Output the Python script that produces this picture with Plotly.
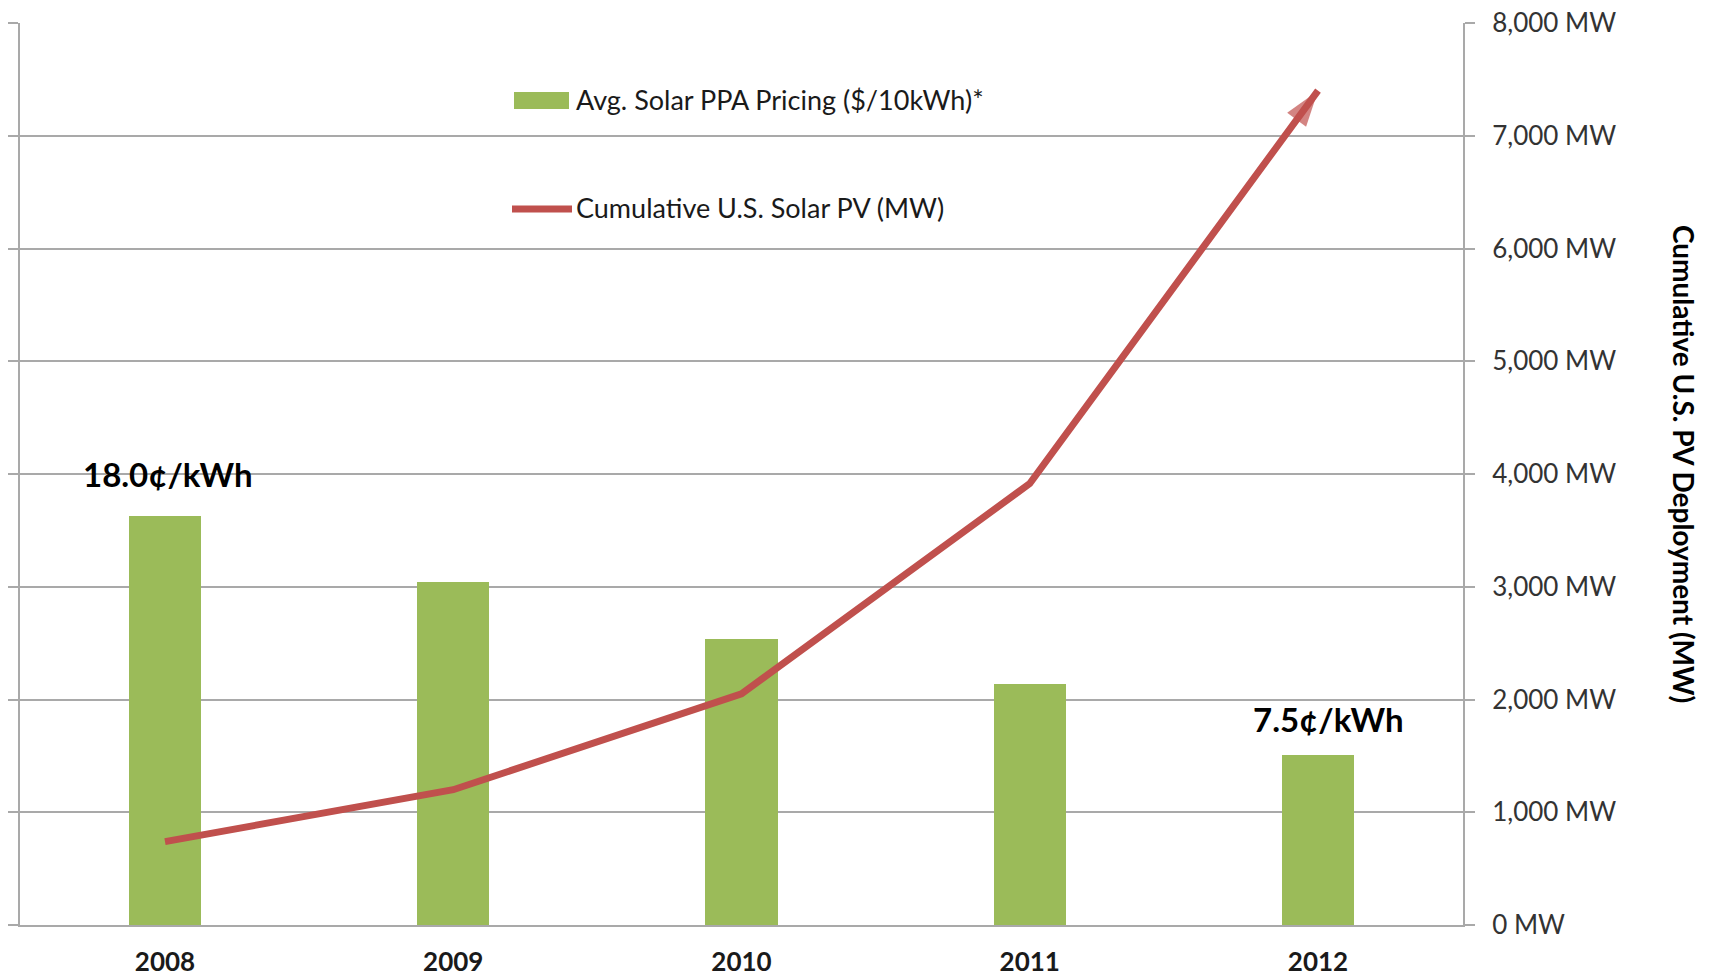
import plotly.graph_objects as go

# ---------------------------------------------------------------------------
# Data
# ---------------------------------------------------------------------------
YEARS = ["2008", "2009", "2010", "2011", "2012"]
PPA_CENTS_PER_KWH = [18.0, 15.1, 12.6, 10.6, 7.5]   # labelled in c/kWh
PV_CUMULATIVE_MW = [740, 1200, 2050, 3915, 7400]
MW_TICKS = [0, 1000, 2000, 3000, 4000, 5000, 6000, 7000, 8000]

BAR_NAME = "Avg. Solar PPA Pricing ($/10kWh)*"
LINE_NAME = "Cumulative U.S. Solar PV (MW)"
RIGHT_TITLE = "Cumulative U.S. PV Deployment (MW)"

# bars are plotted in $/10kWh
ppa_dollars_10kwh = [c / 10 for c in PPA_CENTS_PER_KWH]

GREEN = "#9BBB59"
RED = "#C0504D"
GRID = "#a9a9a9"
FONT = "Lato"

W, H = 1711, 977
M_L, M_R, M_T, M_B = 20, 248, 23, 52
PRICE_MAX = 3.97


def px_to_paper_x(px):
    return (px - M_L) / (W - M_L - M_R)


def px_to_paper_y(py):
    return (H - M_B - py) / (H - M_T - M_B)


fig = go.Figure()

fig.add_trace(go.Bar(
    x=YEARS,
    y=ppa_dollars_10kwh,
    name=BAR_NAME,
    marker=dict(color=GREEN, line=dict(width=0)),
    width=0.25,
    yaxis="y",
    showlegend=False,
))

fig.add_trace(go.Scatter(
    x=YEARS,
    y=PV_CUMULATIVE_MW,
    name=LINE_NAME,
    mode="lines+markers",
    line=dict(color=RED, width=7),
    marker=dict(
        symbol="arrow",
        size=[0, 0, 0, 0, 38],
        angleref="previous",
        color=RED,
        line=dict(width=0),
    ),
    yaxis="y2",
    showlegend=False,
))

# price labels on first and last bar (x given as category index)
for i, dx, dy in ((0, 3, 42), (len(YEARS) - 1, 10, 36)):
    fig.add_annotation(
        x=i, y=ppa_dollars_10kwh[i], xref="x", yref="y",
        text=f"<b>{PPA_CENTS_PER_KWH[i]:.1f}¢/kWh</b>",
        showarrow=False, yanchor="middle", yshift=dy, xshift=dx,
        font=dict(family=FONT, size=33, color="#000000"),
    )

# legend drawn by hand to match the spacing of the original
fig.add_shape(type="rect", xref="paper", yref="paper",
              x0=px_to_paper_x(514), x1=px_to_paper_x(569),
              y0=px_to_paper_y(109), y1=px_to_paper_y(92),
              fillcolor=GREEN, line=dict(width=0))
fig.add_shape(type="line", xref="paper", yref="paper",
              x0=px_to_paper_x(512), x1=px_to_paper_x(572),
              y0=px_to_paper_y(209), y1=px_to_paper_y(209),
              line=dict(color=RED, width=7))
for label, ypx in ((BAR_NAME, 100), (LINE_NAME, 208)):
    fig.add_annotation(
        x=px_to_paper_x(574), y=px_to_paper_y(ypx), xref="paper", yref="paper",
        text=label.replace("$", "&#36;"), showarrow=False,
        xanchor="left", yanchor="middle",
        font=dict(family=FONT, size=27, color="#1a1a1a"),
    )

# right axis title, reading top to bottom
fig.add_annotation(
    x=px_to_paper_x(1684), y=px_to_paper_y(464), xref="paper", yref="paper",
    xanchor="center", yanchor="middle",
    text=f"<b>{RIGHT_TITLE}</b>", textangle=90, showarrow=False,
    font=dict(family=FONT, size=28, color="#000000"),
)

fig.update_layout(
    width=W,
    height=H,
    margin=dict(l=M_L, r=M_R, t=M_T, b=M_B, autoexpand=False),
    paper_bgcolor="white",
    plot_bgcolor="white",
    bargap=0,
    xaxis=dict(
        type="category",
        range=[-0.503, 4.503],
        automargin=False,
        showline=True, linecolor=GRID, linewidth=2,
        showgrid=False, ticks="",
        tickfont=dict(family=FONT, size=26, color="#1a1a1a", weight="bold"),
        ticklabelstandoff=13,
    ),
    yaxis=dict(
        range=[0, PRICE_MAX],
        tick0=0, dtick=PRICE_MAX / 8,
        automargin=False,
        showticklabels=False,
        showgrid=True, gridcolor=GRID, gridwidth=2,
        showline=True, linecolor=GRID, linewidth=2,
        ticks="outside", ticklen=10, tickcolor=GRID, tickwidth=2,
        zeroline=False,
    ),
    yaxis2=dict(
        overlaying="y", side="right",
        range=[0, MW_TICKS[-1]],
        automargin=False,
        tickvals=MW_TICKS,
        ticktext=[f"{v:,} MW" for v in MW_TICKS],
        showgrid=False, zeroline=False,
        showline=True, linecolor=GRID, linewidth=2,
        ticks="outside", ticklen=10, tickcolor=GRID, tickwidth=2,
        tickfont=dict(family=FONT, size=26, color="#333333"),
        ticklabelstandoff=12,
    ),
)

# the page's default body margin would shift the fixed-size figure
fig.write_html(
    "out.html",
    config={"displayModeBar": False},
    post_script="document.body.style.margin = '0';",
)
